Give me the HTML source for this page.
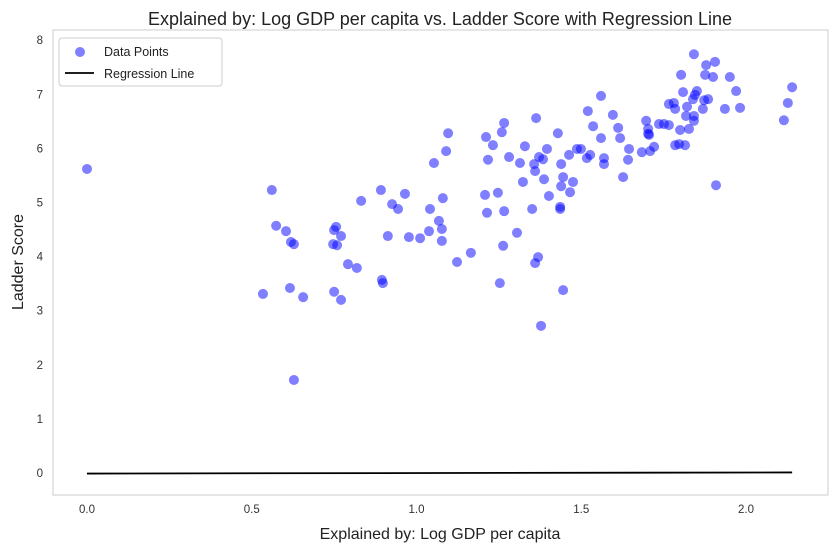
<!DOCTYPE html>
<html><head><meta charset="utf-8"><style>
body{margin:0;background:#fff;font-family:"Liberation Sans",sans-serif}
</style></head><body>
<svg id="chart" width="837" height="552" xmlns="http://www.w3.org/2000/svg" font-family="'Liberation Sans', sans-serif">
<rect width="837" height="552" fill="#fff"/>
<text x="440" y="25" text-anchor="middle" font-size="18" fill="#222">Explained by: Log GDP per capita vs. Ladder Score with Regression Line</text>
<rect x="53" y="30" width="775" height="465" fill="none" stroke="#ccc" stroke-width="1"/>
<g id="xt"></g><g id="yt"></g>
<g id="pts"></g>
<g id="reg"></g>
<text x="440" y="539" text-anchor="middle" font-size="16" fill="#222">Explained by: Log GDP per capita</text>
<text transform="translate(23,262) rotate(-90)" text-anchor="middle" font-size="16" fill="#222">Ladder Score</text>
<g>
<rect x="59" y="38" width="163" height="48" rx="3" fill="#fff" stroke="#ccc"/>
<circle cx="80" cy="52" r="5" fill="rgba(0,0,255,0.5)"/>
<text x="104" y="56" font-size="12.5" fill="#222">Data Points</text>
<line x1="65" y1="73" x2="94" y2="73" stroke="#000" stroke-width="1.8"/>
<text x="104" y="78" font-size="12.5" fill="#222">Regression Line</text>
</g>
</svg>
<script>
const xVals=[0.00,0.534,0.561,0.574,0.604,0.619,0.628,0.616,0.628,0.656,0.756,0.750,0.771,0.747,0.759,0.792,0.819,0.750,0.771,0.895,0.898,0.832,0.892,0.926,0.944,0.965,0.913,0.977,1.011,1.041,1.080,1.068,1.077,1.038,1.077,1.123,1.165,1.053,1.090,1.096,1.266,1.259,1.211,1.232,1.217,1.281,1.363,1.329,1.314,1.357,1.360,1.372,1.384,1.396,1.429,1.520,1.596,1.536,1.560,1.612,1.618,1.463,1.487,1.499,1.517,1.527,1.569,1.569,1.439,1.387,1.323,1.445,1.439,1.475,1.466,1.402,1.436,1.436,1.351,1.266,1.214,1.208,1.247,1.305,1.263,1.369,1.360,1.253,1.445,1.378,1.842,1.879,1.906,1.803,1.876,1.900,1.951,1.970,2.140,2.127,2.115,1.851,1.845,1.839,1.809,1.873,1.885,1.869,1.936,1.982,1.766,1.781,1.785,1.821,1.818,1.842,1.842,1.560,1.697,1.703,1.703,1.706,1.736,1.751,1.766,1.800,1.827,1.645,1.721,1.709,1.684,1.785,1.797,1.815,1.642,1.627,1.909];
const yVals=[5.62,3.31,5.23,4.57,4.47,4.27,4.23,3.42,1.72,3.25,4.55,4.49,4.38,4.23,4.21,3.86,3.79,3.35,3.20,3.57,3.51,5.03,5.23,4.97,4.88,5.16,4.38,4.36,4.34,4.88,5.08,4.66,4.51,4.47,4.29,3.90,4.07,5.73,5.95,6.28,6.47,6.30,6.21,6.06,5.79,5.84,6.56,6.04,5.73,5.71,5.58,5.84,5.80,5.99,6.28,6.69,6.62,6.41,6.19,6.38,6.19,5.88,5.99,5.99,5.82,5.88,5.82,5.71,5.71,5.43,5.38,5.47,5.30,5.38,5.19,5.12,4.92,4.88,4.88,4.84,4.81,5.14,5.18,4.44,4.20,3.99,3.88,3.51,3.38,2.72,7.74,7.54,7.60,7.36,7.36,7.32,7.32,7.06,7.13,6.84,6.52,7.06,6.99,6.91,7.04,6.89,6.91,6.73,6.73,6.75,6.82,6.84,6.73,6.77,6.60,6.60,6.51,6.97,6.51,6.36,6.27,6.25,6.45,6.45,6.43,6.34,6.36,5.99,6.03,5.95,5.93,6.06,6.08,6.06,5.79,5.47,5.32];
const xTicks=[0,0.5,1.0,1.5,2.0];
const xTickLabels=["0.0","0.5","1.0","1.5","2.0"];
const yTicks=[0,1,2,3,4,5,6,7,8];
const regX=[0,2.14];
const regY=[-0.01,0.01];
const NS="http://www.w3.org/2000/svg";
function sx(v){return 87+v*329.5;}
function sy(v){return 473-v*54.1;}
function mk(t,a,p){const e=document.createElementNS(NS,t);for(const k in a)e.setAttribute(k,a[k]);p.appendChild(e);return e;}
const xt=document.getElementById('xt'),yt=document.getElementById('yt'),pts=document.getElementById('pts'),reg=document.getElementById('reg');
xTicks.forEach((v,i)=>{const t=mk('text',{x:sx(v),y:513,'text-anchor':'middle','font-size':'11.5',fill:'#333'},xt);t.textContent=xTickLabels[i];

});
yTicks.forEach(v=>{const t=mk('text',{x:43,y:sy(v)+4,'text-anchor':'end','font-size':'11.5',fill:'#333'},yt);t.textContent=String(v);

});
xVals.forEach((v,i)=>{const c=mk('circle',{cx:sx(v),cy:sy(yVals[i]),r:5,fill:'rgba(0,0,255,0.5)'},pts);

});
const l=mk('line',{x1:sx(regX[0]),y1:sy(regY[0]),x2:sx(regX[1]),y2:sy(regY[1]),stroke:'#000','stroke-width':1.8},reg);


</script>
</body></html>
